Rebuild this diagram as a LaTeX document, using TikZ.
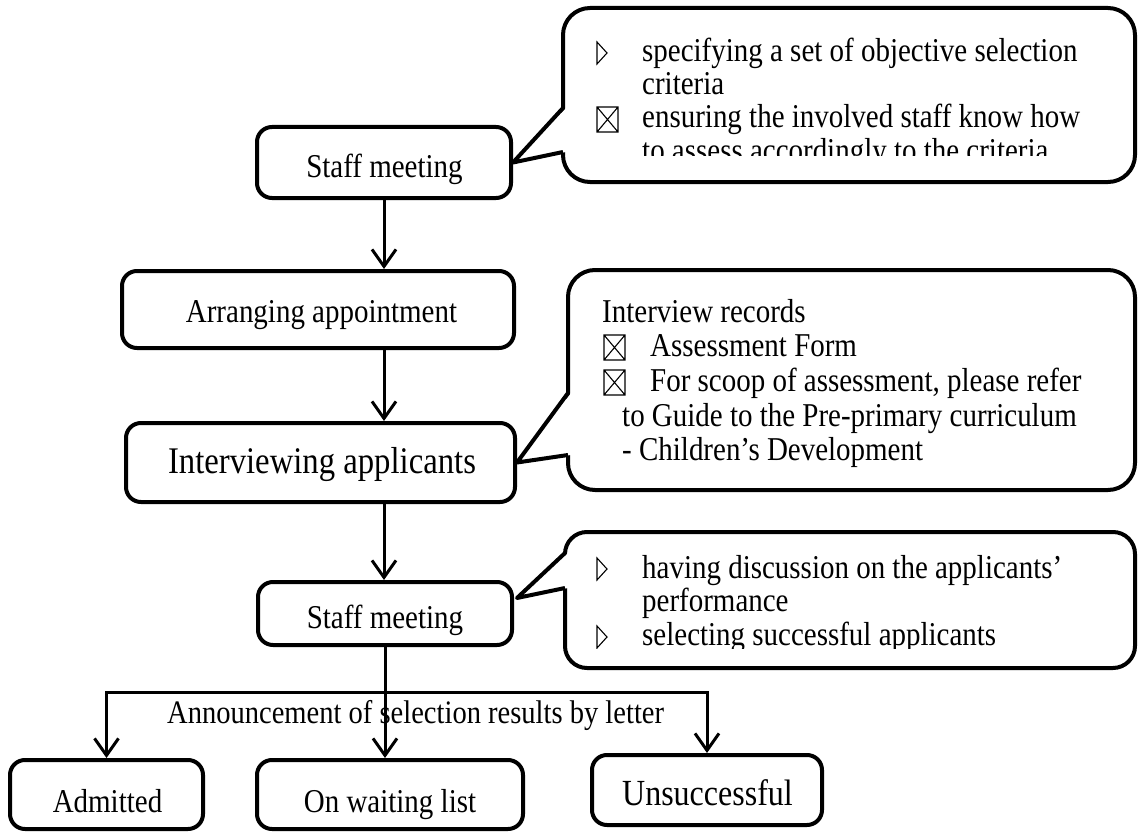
\documentclass[tikz,border=0pt]{standalone}
\usepackage{fontspec}
\setmainfont{Liberation Serif}[FakeStretch=0.87]
\usetikzlibrary{arrows.meta,calc}
\begin{document}
\begin{tikzpicture}[x=1pt,y=-1pt,
  box/.style={draw, line width=4pt, rounded corners=15pt, inner sep=0pt},
  callout/.style={draw, line width=4pt, fill=white, inner sep=0pt},
  ptr/.style={line width=4pt, line join=round},
  arr/.style={line width=3pt, -{Straight Barb[length=17pt,width=24pt]}},
  lbl/.style={anchor=base, inner sep=0pt, font=\fontsize{33.3}{38}\selectfont},
  txt/.style={anchor=base west, inner sep=0pt, font=\fontsize{33.3}{38}\selectfont},
  mkline/.style={line width=1.1pt, line join=miter},
  xbox/.pic={\draw[mkline] (0,0) rectangle (21,25) (0,0) -- (21,25) (21,0) -- (0,25);},
  tri/.pic={\draw[mkline] (0,0) -- (10,11) -- (0,22) -- cycle;}
]
\useasboundingbox (0,0) rectangle (1138,832);
\fill[white] (0,0) rectangle (1138,832);

% main boxes
\node[box, minimum width=254pt, minimum height=71pt] (sm1) at (384,162.5) {};
\node[box, minimum width=392pt, minimum height=77pt] (aa) at (318,309.5) {};
\node[box, minimum width=389pt, minimum height=79pt] (ia) at (320.5,462.5) {};
\node[box, minimum width=254pt, minimum height=63pt] (sm2) at (385,613.5) {};
\node[box, minimum width=193pt, minimum height=69pt] (adm) at (106.5,794.5) {};
\node[box, minimum width=266pt, minimum height=69pt] (wl) at (390,794.5) {};
\node[box, minimum width=230pt, minimum height=70pt] (uns) at (707,790) {};

\node[lbl] (sm1t) at (384.5,178) {Staff meeting};
\node[lbl] (aat) at (321.5,322) {Arranging appointment};
\node[lbl, font=\fontsize{37.6}{42}\selectfont] (iat) at (322,473) {Interviewing applicants};
\node[lbl] (sm2t) at (385,628) {Staff meeting};
\node[lbl] (admt) at (107.5,812) {Admitted};
\node[lbl] (wlt) at (390,812) {On waiting list};
\node[lbl, font=\fontsize{36.8}{42}\selectfont] (unst) at (707.5,805) {Unsuccessful};

% connectors
\draw[arr] (sm1.south) -- (sm1.south |- aa.north);
\draw[arr] (sm1.south |- aa.south) -- (sm1.south |- ia.north);
\draw[arr] (sm1.south |- ia.south) -- (sm1.south |- sm2.north);
\draw[arr] (sm2.south) -- (sm2.south |- wl.north);
\coordinate (bary) at (0,692);
\coordinate (bar) at (sm2.south |- bary);
\draw[arr] (bar) -| (adm.north);
\draw[arr] (bar) -| (uns.north);
\node[txt, font=\fontsize{32.8}{38}\selectfont] (ann) at (167,723) {Announcement of selection results by letter};

% callout 1
\node[callout, rounded corners=27pt, minimum width=572pt, minimum height=174pt] (c1) at (849,95) {};
\coordinate (c1u) at (563,108);
\coordinate (c1l) at (563,152);
\fill[white] ($(c1u)+(3,0)$) -- (sm1.east) -- ($(c1l)+(3,0)$) -- cycle;
\draw[ptr] (c1u) -- (sm1.east) -- (c1l);
\begin{scope}
\clip (570,12) rectangle (1130,156);
\pic at (597,42) {tri};
\node[txt] (c1a) at (642,62) {specifying a set of objective selection};
\node[txt] (c1b) at (642,95) {criteria};
\pic at (597,107) {xbox};
\node[txt] (c1c) at (642,128) {ensuring the involved staff know how};
\node[txt] (c1d) at (642,161) {to assess accordingly to the criteria};
\end{scope}

% callout 2
\node[callout, rounded corners=27pt, minimum width=567pt, minimum height=220pt] (c2) at (851.5,380) {};
\coordinate (c2u) at (568,393);
\coordinate (c2l) at (568,455);
\fill[white] ($(c2u)+(3,0)$) -- (ia.east) -- ($(c2l)+(3,0)$) -- cycle;
\draw[ptr] (c2u) -- (ia.east) -- (c2l);
\node[txt] (c2a) at (602,322) {Interview records};
\pic at (604,335) {xbox};
\node[txt] (c2b) at (650,356) {Assessment Form};
\pic at (604,370) {xbox};
\node[txt] (c2c) at (650,391) {For scoop of assessment, please refer};
\node[txt] (c2d) at (622,426) {to Guide to the Pre-primary curriculum};
\node[txt] (c2e) at (622,460) {- Children’s Development};

% callout 3
\node[callout, rounded corners=22pt, minimum width=570pt, minimum height=136pt] (c3) at (850,600) {};
\coordinate (c3u) at (565,553);
\coordinate (c3l) at (565,588);
\coordinate (c3t) at ($(sm2.east)+(3,-15.5)$);
\fill[white] ($(c3u)+(3,0)$) -- (c3t) -- ($(c3l)+(3,0)$) -- cycle;
\draw[ptr] (c3u) -- (c3t) -- (c3l);
\begin{scope}
\clip (570,536) rectangle (1130,648);
\pic at (597,558) {tri};
\node[txt] (c3a) at (642,578) {having discussion on the applicants’};
\node[txt] (c3b) at (642,611) {performance};
\pic at (597,626) {tri};
\node[txt] (c3c) at (642,645) {selecting successful applicants};
\end{scope}
\end{tikzpicture}
\end{document}
